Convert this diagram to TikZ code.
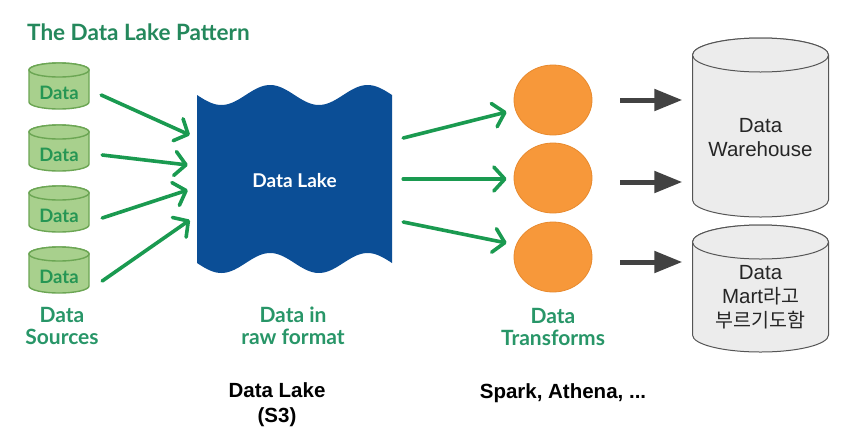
\documentclass[tikz,border=0pt]{standalone}
\usepackage{fontspec}
\setmainfont{Liberation Sans}
\newfontfamily\lato{Lato}
\newfontfamily\cjk{Noto Sans CJK KR}
\usetikzlibrary{arrows.meta,shapes.geometric}
\definecolor{titlegreen}{RGB}{36,136,92}
\definecolor{lblgreen}{RGB}{40,150,104}
\definecolor{arrowgreen}{RGB}{26,154,80}
\definecolor{cylfill}{RGB}{168,208,141}
\definecolor{cylstroke}{RGB}{108,166,84}
\definecolor{cyltext}{RGB}{38,150,84}
\definecolor{lakeblue}{RGB}{11,78,150}
\definecolor{orangefill}{RGB}{247,152,58}
\definecolor{orangestroke}{RGB}{232,138,46}
\definecolor{grayfill}{RGB}{236,236,236}
\definecolor{graystroke}{RGB}{85,85,85}
\definecolor{darkarrow}{RGB}{66,66,66}
% #1 cx, #2 top, #3 width, #4 height, #5 ry, #6 style
\newcommand\dbcyl[6]{%
  \path[#6] ({#1-#3/2},{-#2-#5}) -- ({#1-#3/2},{-#2-#4+#5})
    arc[start angle=180,end angle=360,x radius=#3/2,y radius=#5]
    -- ({#1+#3/2},{-#2-#5})
    arc[start angle=0,end angle=180,x radius=#3/2,y radius=#5] -- cycle;
  \path[#6] (#1,{-#2-#5}) ellipse[x radius=#3/2,y radius=#5];
}
\begin{document}
\begin{tikzpicture}[x=1pt,y=1pt,
  titletext/.style={font={\lato\bfseries\fontsize{22.5}{26}\selectfont},text=titlegreen,inner sep=0},
  greenlbl/.style={font={\lato\bfseries\fontsize{21}{22}\selectfont},text=lblgreen,align=center,inner sep=0},
  srccyl/.style={fill=cylfill,draw=cylstroke,line width=1.4pt},
  srctext/.style={font={\lato\bfseries\fontsize{18.5}{20}\selectfont},text=cyltext,minimum width=60,inner sep=0},
  graycyl/.style={fill=grayfill,draw=graystroke,line width=1pt},
  graytext/.style={font={\fontsize{20.5}{24}\selectfont},text=black!85,align=center,minimum width=136,inner sep=0},
  transform/.style={ellipse,fill=orangefill,draw=orangestroke,line width=0.8pt,minimum width=78,minimum height=70,inner sep=0},
  garrow/.style={draw=arrowgreen,line width=3.6pt,line cap=round,-{Straight Barb[length=11pt,width=24pt,round]}},
  darrowstyle/.style={draw=darkarrow,line width=5pt,-{Triangle[length=28pt,width=21pt]}},
  bottomlbl/.style={font={\bfseries\fontsize{20.5}{25}\selectfont},text=black,align=center,inner sep=0}
]
\useasboundingbox[fill=white] (0,0) rectangle (856,-429);

\node[titletext,anchor=west] (title) at (27,-32) {The Data Lake Pattern};

% data sources
\foreach \i/\t in {1/63,2/125,3/186,4/247}{
  \dbcyl{59}{\t}{60}{46}{7}{srccyl}
}
\node[srctext] (s1) at (59,-93) {Data};
\node[srctext] (s2) at (59,-155) {Data};
\node[srctext] (s3) at (59,-216) {Data};
\node[srctext] (s4) at (59,-277) {Data};

% lake
\fill[lakeblue] plot[domain=0:195,samples=80] ({197+\x},{-95-10*sin(\x/195*720)})
  -- plot[domain=195:0,samples=80] ({197+\x},{-263-10*sin(\x/195*720)}) -- cycle;
\node[minimum width=195,minimum height=168,inner sep=0,
      font={\lato\bfseries\fontsize{19}{21}\selectfont},text=white] (lake) at (294.5,-181) {Data Lake};

% transforms
\node[transform] (t1) at (553,-100) {};
\node[transform] (t2) at (553,-178) {};
\node[transform] (t3) at (553,-257) {};

% warehouse and mart
\dbcyl{760.5}{38}{136}{179}{17}{graycyl}
\dbcyl{760.5}{225}{136}{127}{17}{graycyl}
\node[graytext] (wh) at (760.5,-138) {Data\\Warehouse};
\node[graytext] (mart) at (760.5,-297) {Data\\Mart{\cjk\fontsize{19.5}{24}\selectfont 라고}\\{\cjk\fontsize{19.5}{24}\selectfont 부르기도함}};

% labels
\node[greenlbl] (lsrc) at (62,-326) {Data\\Sources};
\node[greenlbl] (lraw) at (293,-326) {Data in\\raw format};
\node[greenlbl] (ltr) at (553,-327) {Data\\Transforms};
\node[bottomlbl] (blake) at (277,-405) {Data Lake\\(S3)};
\node[bottomlbl] (bspark) at (563,-393) {Spark, Athena, ...};

% source -> lake
\draw[garrow] ([xshift=12pt,yshift=-2pt]s1.east) -- ([xshift=-7pt,yshift=46pt]lake.west);
\draw[garrow] ([xshift=13pt]s2.east) -- ([xshift=-9pt,yshift=16pt]lake.west);
\draw[garrow] ([xshift=13pt,yshift=-2pt]s3.east) -- ([xshift=-9pt,yshift=-9pt]lake.west);
\draw[garrow] ([xshift=13pt,yshift=-4pt]s4.east) -- ([xshift=-7pt,yshift=-39pt]lake.west);

% lake -> transforms
\draw[garrow] ([xshift=11pt,yshift=43pt]lake.east) -- ([xshift=-7pt,yshift=-12pt]t1.west);
\draw[garrow] ([xshift=11pt,yshift=2pt]lake.east) -- ([xshift=-7pt,yshift=-1pt]t2.west);
\draw[garrow] ([xshift=11pt,yshift=-41pt]lake.east) -- ([xshift=-7pt,yshift=14pt]t3.west);

% transforms -> stores
\draw[darrowstyle] ([xshift=28pt]t1.east) -- ([xshift=-10pt]t1.east -| wh.west);
\draw[darrowstyle] ([xshift=28pt,yshift=-4pt]t2.east) -- ([xshift=-10pt,yshift=-4pt]t2.east -| wh.west);
\draw[darrowstyle] ([xshift=28pt,yshift=-5pt]t3.east) -- ([xshift=-10pt,yshift=-5pt]t3.east -| mart.west);
\end{tikzpicture}
\end{document}
